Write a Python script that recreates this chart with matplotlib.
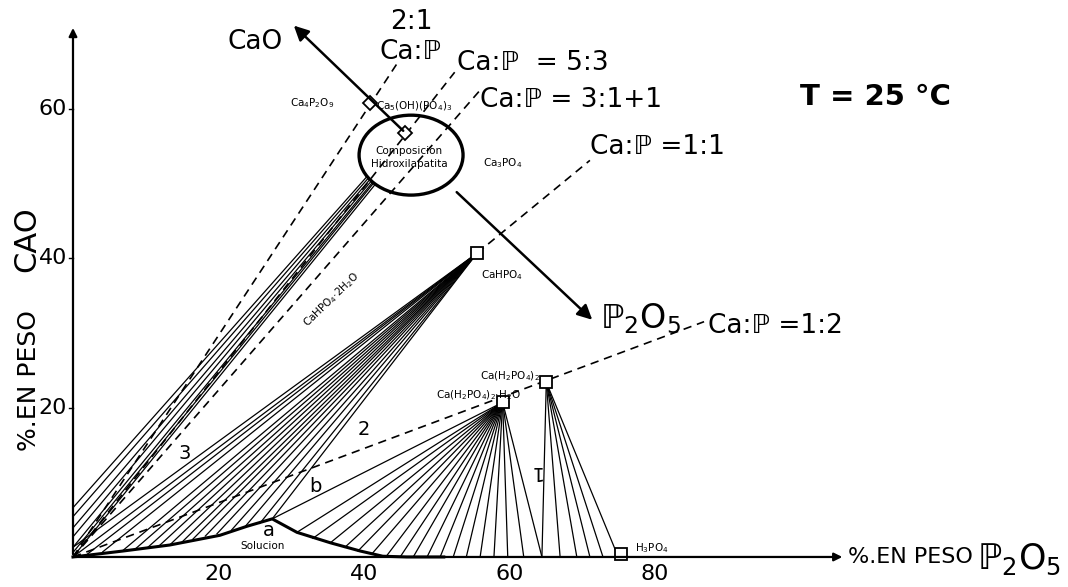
import numpy as np
import matplotlib.pyplot as plt
from matplotlib.patches import Ellipse

plt.rcParams['font.family'] = ['DejaVu Sans']

# composiciones (% P2O5, % CaO)
CaHPO4 = (55.6, 40.7)
CaH2PO4_H2O = (59.1, 20.7)
CaH2PO4 = (65.1, 23.4)
H3PO4 = (75.4, 0.4)
HAP = (45.7, 56.8)
Ca4P2O9 = (40.9, 60.8)

# elipse de composicion hidroxilapatita
elip_c = (46.5, 53.8)
elip_w, elip_h = 14.3, 10.7

# curva de solubilidad
sol_x = [0, 6.9, 13.3, 20.2, 23.9, 27.4, 30.8, 35.4, 39.5, 42.6, 45.9, 51.0]
sol_y = [0, 0.8, 1.6, 2.9, 4.1, 5.1, 3.3, 1.9, 0.8, 0.1, 0, 0]

# region 3: lineas de union hacia la hidroxilapatita
r3_bot_y = [0, 0.6, 1.3, 2.7, 3.9, 5.4, 6.6]
r3_top_x = [41.5, 41.3, 41.2, 41.0, 40.8, 40.6, 40.4]
r3_top_y = [49.8, 50.0, 50.15, 50.3, 50.5, 50.7, 50.9]

# region 2: lineas hacia CaHPO4
r2_x = [0, 0, 2.0, 4.1, 6.9, 8.6, 10.3, 11.8, 13.3, 15.0, 16.5, 18.2, 19.8, 21.8, 23.7, 25.7, 27.4]
r2_y = [1.3, 0, 0.4, 0.7, 0.9, 1.1, 1.3, 1.45, 1.6, 2.0, 2.4, 2.8, 3.1, 3.6, 4.1, 4.5, 5.1]

# region 1: lineas hacia Ca(H2PO4)2.H2O
r1_x = [27.4, 30.8, 33.0, 35.4, 37.4, 39.2, 41.1, 43.1, 45.0, 46.8, 48.7,
        50.5, 52.3, 54.1, 56.0, 57.9, 59.8, 62.0, 64.5]
r1_y = [5.1, 3.3, 2.5, 1.9, 1.3, 0.8, 0.4, 0.1, 0, 0, 0,
        0, 0, 0, 0, 0, 0, 0, 0]

# lineas hacia Ca(H2PO4)2
r0_x = [64.5, 67.0, 69.3, 71.1, 72.9, 75.0]

# lineas Ca:P (extremos)
ratio_ini = [(0, 0), (0, 0), (0, 0), CaHPO4, (0, 0)]
ratio_fin = [(44.6, 66.1), (52.5, 64.9), (56.0, 62.5), (71.1, 53.1), (86.8, 31.5)]

fig = plt.figure(figsize=(10.68, 5.87), dpi=100)
ax = fig.add_axes([0, 0, 1, 1])
ax.set_xlim(-10.04, 136.86)
ax.set_ylim(-4.02, 74.57)
ax.axis('off')

lw = 0.9
# ejes
ax.annotate('', xy=(106.2, 0), xytext=(0, 0),
            arrowprops=dict(arrowstyle='-|>', lw=1.6, color='k', mutation_scale=12))
ax.annotate('', xy=(0, 71.2), xytext=(0, 0),
            arrowprops=dict(arrowstyle='-|>', lw=1.6, color='k', mutation_scale=12))
for v in [20, 40, 60]:
    ax.plot([-0.6, 0], [v, v], color='k', lw=1)
    ax.text(-0.8, v, str(v), ha='right', va='center', fontsize=16)
for v in [20, 40, 60, 80]:
    ax.text(v, -1.0, str(v), ha='center', va='top', fontsize=16)

ax.text(106.6, 0, '%.EN PESO', ha='left', va='center', fontsize=16)
ax.text(124.4, -0.3, r'ℙ$_2$O$_5$', ha='left', va='center', fontsize=25)
ax.text(-6.0, 23.6, '%.EN PESO', ha='center', va='center', fontsize=18, rotation=90)
ax.text(-6.4, 42.5, 'CAO', ha='center', va='center', fontsize=22, rotation=90)

# lineas Ca:P
for (x0, y0), (x1, y1) in zip(ratio_ini, ratio_fin):
    ax.plot([x0, x1], [y0, y1], color='k', lw=1.2, ls=(0, (5, 3.5)))

# region 3
for yb, xt, yt in zip(r3_bot_y, r3_top_x, r3_top_y):
    ax.plot([0, xt], [yb, yt], color='k', lw=lw)
# region 2
for xb, yb in zip(r2_x, r2_y):
    ax.plot([xb, CaHPO4[0]], [yb, CaHPO4[1]], color='k', lw=lw)
# region 1
for xb, yb in zip(r1_x, r1_y):
    ax.plot([xb, CaH2PO4_H2O[0]], [yb, CaH2PO4_H2O[1]], color='k', lw=lw)
for xb in r0_x:
    ax.plot([xb, CaH2PO4[0]], [0, CaH2PO4[1]], color='k', lw=lw)

# curva de solubilidad
ax.plot(sol_x, sol_y, color='k', lw=2.2)

# elipse y flechas CaO / P2O5
ax.add_patch(Ellipse(elip_c, elip_w, elip_h, fill=False, lw=2.4, ec='k'))
ax.annotate('', xy=(30.1, 71.4), xytext=HAP,
            arrowprops=dict(arrowstyle='-|>', lw=1.8, color='k', mutation_scale=22))
ax.annotate('', xy=(71.7, 31.5), xytext=(52.5, 49.1),
            arrowprops=dict(arrowstyle='-|>', lw=1.8, color='k', mutation_scale=22))

# marcadores
for p in [CaHPO4, CaH2PO4_H2O, CaH2PO4, H3PO4]:
    ax.plot(*p, marker='s', ms=8, mfc='white', mec='k', mew=1.3)
for p in [HAP, Ca4P2O9]:
    ax.plot(*p, marker='D', ms=7, mfc='white', mec='k', mew=1.3)

# textos grandes
big = 19
ax.text(25.0, 68.9, 'CaO', ha='center', va='center', fontsize=big)
ax.text(46.6, 71.6, '2:1', ha='center', va='center', fontsize=big)
ax.text(46.4, 67.6, 'Ca:ℙ', ha='center', va='center', fontsize=big)
ax.text(52.8, 66.1, 'Ca:ℙ  = 5:3', ha='left', va='center', fontsize=big)
ax.text(56.0, 61.2, 'Ca:ℙ = 3:1+1', ha='left', va='center', fontsize=big)
ax.text(71.1, 54.9, 'Ca:ℙ =1:1', ha='left', va='center', fontsize=big)
ax.text(72.5, 31.9, r'ℙ$_2$O$_5$', ha='left', va='center', fontsize=24)
ax.text(87.3, 30.9, 'Ca:ℙ =1:2', ha='left', va='center', fontsize=big)
ax.text(100.0, 61.6, 'T = 25 °C', ha='left', va='center', fontsize=21, fontweight='bold')

# textos pequenos
sm = 7.5
ax.text(32.9, 60.8, r'Ca$_4$P$_2$O$_9$', ha='center', va='center', fontsize=sm)
ax.text(41.7, 60.4, r'Ca$_5$(OH)(PO$_4$)$_3$', ha='left', va='center', fontsize=sm)
ax.text(46.2, 54.3, 'Composicion', ha='center', va='center', fontsize=sm)
ax.text(46.2, 52.6, 'Hidroxilapatita', ha='center', va='center', fontsize=sm)
ax.text(59.1, 52.7, r'Ca$_3$PO$_4$', ha='center', va='center', fontsize=sm)
ax.text(59.0, 37.8, r'CaHPO$_4$', ha='center', va='center', fontsize=sm)
ax.text(35.5, 34.4, r'CaHPO$_4$·2H$_2$O', ha='center', va='center', fontsize=sm, rotation=44)
ax.text(60.1, 24.2, r'Ca(H$_2$PO$_4$)$_2$', ha='center', va='center', fontsize=sm)
ax.text(55.8, 21.7, r'Ca(H$_2$PO$_4$)$_2$·H$_2$O', ha='center', va='center', fontsize=sm)
ax.text(79.6, 1.2, r'H$_3$PO$_4$', ha='center', va='center', fontsize=sm)
ax.text(26.1, 1.5, 'Solucion', ha='center', va='center', fontsize=sm)

mid = 14
ax.text(27.0, 3.6, 'a', ha='center', va='center', fontsize=mid)
ax.text(33.3, 9.5, 'b', ha='center', va='center', fontsize=mid)
ax.text(40.0, 17.0, '2', ha='center', va='center', fontsize=mid)
ax.text(15.4, 13.8, '3', ha='center', va='center', fontsize=mid)
ax.text(63.5, 11.5, '1', ha='center', va='center', fontsize=mid, rotation=180)

fig.savefig('out.png', dpi=100)
